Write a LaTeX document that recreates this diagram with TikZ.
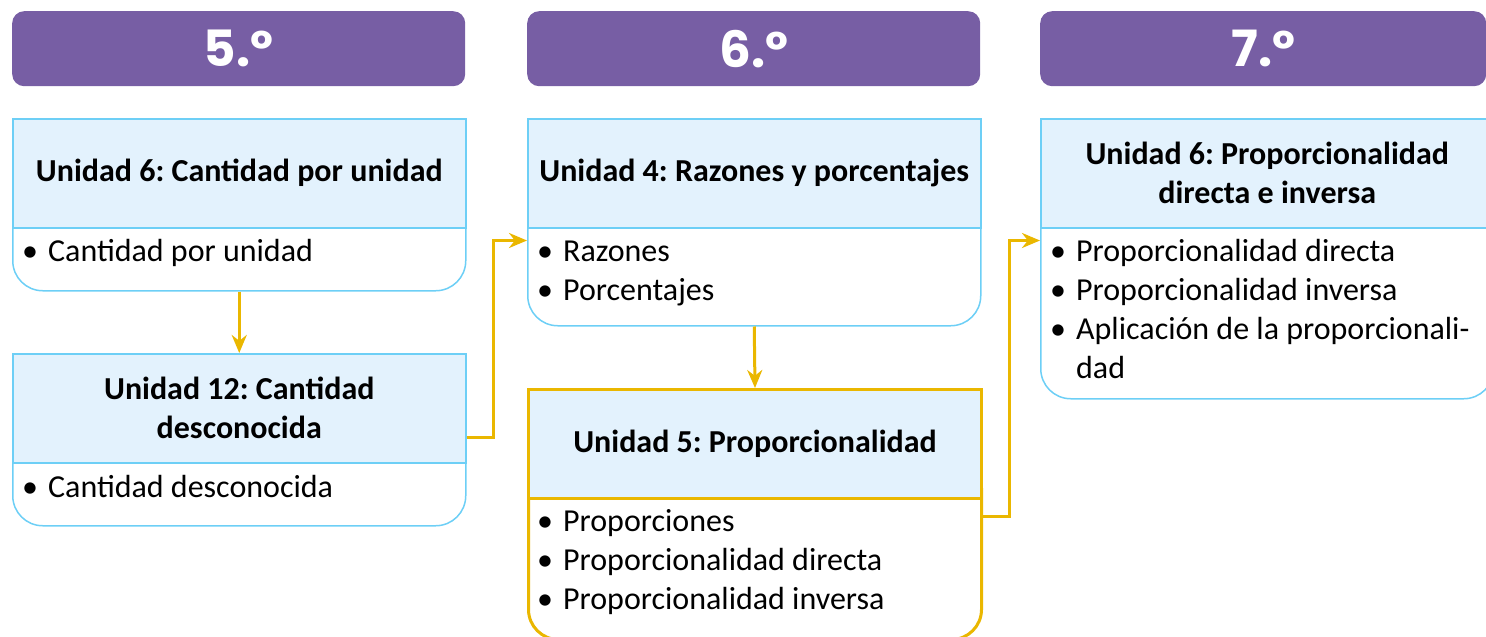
\documentclass[tikz,border=0pt]{standalone}
\usepackage{fontspec}
\setmainfont{Carlito}
\newfontfamily\gradefont{Poppins}
\usetikzlibrary{arrows.meta,calc}
\frenchspacing

\definecolor{gradepurple}{RGB}{119,94,164}
\definecolor{unitfill}{RGB}{227,242,253}
\definecolor{unitblue}{RGB}{109,207,246}
\definecolor{flowyellow}{RGB}{234,183,0}

\newcommand{\itm}{\textbullet\hspace{10pt}}

\tikzset{
	grade/.style={fill=gradepurple, rounded corners=12pt, minimum width=453, minimum height=75, anchor=north west, inner sep=0, text=white, font=\gradefont\bfseries\fontsize{50}{50}\selectfont},
	unittitle/.style={draw=unitblue, line width=1.5, fill=unitfill, minimum width=453, minimum height=109, anchor=north west, inner sep=0, align=center, font=\bfseries\fontsize{32}{39}\selectfont},
	unitbody/.style={draw=unitblue, line width=1.5, fill=white, rounded corners=30pt, minimum width=453, anchor=north west, inner sep=0},
	bodytext/.style={anchor=base west, inner sep=0, font=\fontsize{32}{39}\selectfont},
	flow/.style={draw=flowyellow, line width=3, -{Stealth[length=18pt,width=15pt]}},
}

\begin{document}
\begin{tikzpicture}[x=1pt,y=-1pt]
		
		\useasboundingbox (0,0) rectangle (1486,637);
		\clip (0,0) rectangle (1486,637);
		
		% grades
		\node[grade] (g5) at (12,11) {5.º};
		\node[grade] (g6) at (527,11) {6.º};
		\node[grade, minimum width=446] (g7) at (1040,11) {7.º};
		
		% 5.º
		\node[unitbody, minimum height=103] (ba) at (12,187) {};
		\node[unittitle] (ta) at (12,118) {Unidad 6: Cantidad por unidad};
		\node[bodytext] (xa) at (22,261) {\begin{tabular}[t]{@{}l@{}}
				\itm Cantidad por unidad
			\end{tabular}};
		
		\node[unitbody, minimum height=103] (bb) at (12,422) {};
		\node[unittitle] (tb) at (12,353) {Unidad 12: Cantidad\\desconocida};
		\node[bodytext] (xb) at (22,497) {\begin{tabular}[t]{@{}l@{}}
				\itm Cantidad desconocida
			\end{tabular}};
		
		% 6.º
		\node[unitbody, minimum height=138] (bc) at (527,187) {};
		\node[unittitle] (tc) at (527,118) {Unidad 4: Razones y porcentajes};
		\node[bodytext] (xc) at (537,261) {\begin{tabular}[t]{@{}l@{}}
				\itm Razones\\
				\itm Porcentajes
			\end{tabular}};
		
		\node[unitbody, draw=flowyellow, line width=3, minimum height=181] (bd) at (527,457) {};
		\node[unittitle, draw=flowyellow, line width=3] (td) at (527,388) {Unidad 5: Proporcionalidad};
		\node[bodytext] (xd) at (537,531) {\begin{tabular}[t]{@{}l@{}}
				\itm Proporciones\\
				\itm Proporcionalidad directa\\
				\itm Proporcionalidad inversa
			\end{tabular}};
		
		% 7.º
		\node[unitbody, minimum height=211] (be) at (1040,187) {};
		\node[unittitle] (te) at (1040,118) {Unidad 6: Proporcionalidad\\directa e inversa};
		\node[bodytext] (xe) at (1050,261) {\begin{tabular}[t]{@{}l@{}}
				\itm Proporcionalidad directa\\
				\itm Proporcionalidad inversa\\
				\itm Aplicación de la proporcionali-\\
				\hphantom{\itm}dad
			\end{tabular}};
		
		% arrows
		\draw[flow] (ba.south) -- (tb.north);
		\draw[flow] ($(tb.east)+(0,29.5)$) -- ++(27,0) |- ($(tc.south west)+(0,12)$);
		\draw[flow] (bc.south) -- (td.north);
		\draw[flow] ($(td.south east)+(0,16)$) -- ++(26,0) |- ($(te.south west)+(0,12)$);
		
\end{tikzpicture}
\end{document}
